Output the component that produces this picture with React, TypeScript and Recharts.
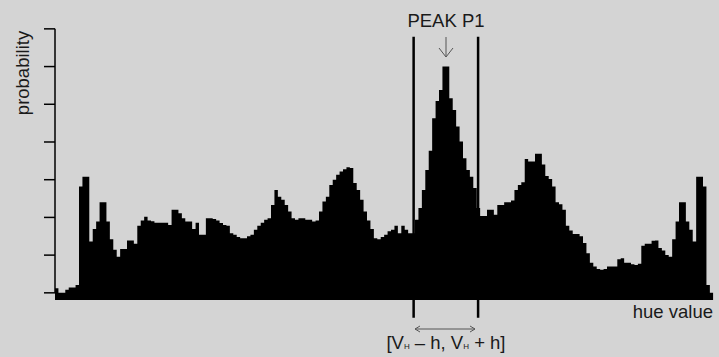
import React from 'react';
import { AreaChart, Area, XAxis, YAxis, ReferenceLine } from 'recharts';

// histogram heights, one per hue bin (units = y tick spacing)
const probability = [
  0.12, 0.0, 0.0, 0.08, 0.14, 0.14, 0.21, 2.82, 3.08, 3.08,
  1.36, 1.69, 1.89, 2.4, 2.4, 1.89, 1.42, 1.14, 0.96, 1.16,
  1.16, 1.39, 1.39, 1.3, 1.78, 1.92, 2.02, 1.92, 1.9, 1.86,
  1.86, 1.86, 1.86, 1.8, 2.2, 2.2, 2.11, 1.98, 1.89, 1.89,
  1.69, 1.86, 1.54, 1.54, 1.98, 1.98, 1.96, 1.92, 1.85, 1.8,
  1.78, 1.58, 1.54, 1.48, 1.45, 1.45, 1.5, 1.54, 1.67, 1.78,
  1.86, 1.94, 1.98, 2.33, 2.73, 2.55, 2.47, 2.33, 2.16, 1.98,
  1.94, 1.98, 1.98, 1.94, 1.94, 1.89, 1.92, 2.16, 2.42, 2.55,
  2.86, 3.0, 3.13, 3.22, 3.28, 3.33, 3.31, 2.91, 2.73, 2.47,
  2.16, 1.92, 1.69, 1.45, 1.42, 1.48, 1.54, 1.63, 1.67, 1.78,
  1.58, 1.78, 1.67, 1.58, 1.58, 1.94, 2.25, 2.73, 3.26, 3.77,
  4.63, 5.09, 5.38, 6.0, 6.0, 5.16, 4.85, 4.41, 4.01, 3.57,
  3.26, 3.08, 2.78, 2.25, 2.04, 2.04, 2.2, 2.2, 2.07, 2.33,
  2.33, 2.4, 2.4, 2.45, 2.73, 2.86, 2.93, 3.55, 3.48, 3.48,
  3.69, 3.69, 3.4, 3.1, 3.02, 2.82, 2.4, 2.35, 2.2, 1.78,
  1.65, 1.56, 1.56, 1.5, 1.32, 1.05, 0.8, 0.7, 0.63, 0.61,
  0.63, 0.7, 0.7, 0.7, 0.89, 0.92, 0.8, 0.8, 0.76, 0.74,
  0.77, 1.25, 1.3, 1.3, 1.38, 1.39, 1.19, 1.12, 1.0, 0.96,
  1.42, 1.89, 2.4, 2.4, 1.89, 1.67, 1.36, 3.08, 3.08, 2.82,
  0.21, 0.0,
];

const yTicks = [0, 1, 2, 3, 4, 5, 6, 7];
const peakBin = 114;
const halfWidth = 9.4;

// each bin starts at its index; last point closes the final step
const histogram = probability
  .map((p, i) => ({ hue: i, p }))
  .concat({ hue: probability.length, p: probability[probability.length - 1] });

const BG = '#d4d4d4';
const FONT = '"Liberation Sans", Arial, sans-serif';
const TEXT = '#1a1a1a';

export default function App() {
  return (
    <div style={{ position: 'absolute', left: 0, top: 0, width: 719, height: 357, background: BG }}>
      <AreaChart
        width={719}
        height={357}
        data={histogram}
        margin={{ top: 10, right: 5.7, bottom: 57, left: 0 }}
      >
        <XAxis type="number" dataKey="hue" domain={[0, probability.length]} hide allowDataOverflow />
        <YAxis
          type="number"
          domain={[-0.19, 7.5]}
          ticks={yTicks}
          interval={0}
          width={55}
          axisLine={false}
          tickLine={{ stroke: '#000', strokeWidth: 1.5 }}
          tickSize={11}
          tickFormatter={() => ''}
          allowDataOverflow
        />
        <Area
          type="stepAfter"
          dataKey="p"
          fill="#000"
          fillOpacity={1}
          stroke="none"
          baseValue="dataMin"
          dot={false}
          activeDot={false}
          isAnimationActive={false}
        />
        <ReferenceLine
          segment={[{ x: 0, y: 0 }, { x: 0, y: 7 }]}
          stroke="#000"
          strokeWidth={1.5}
          ifOverflow="visible"
        />
        <ReferenceLine
          segment={[{ x: peakBin - halfWidth, y: 6.79 }, { x: peakBin - halfWidth, y: -0.66 }]}
          stroke="#000"
          strokeWidth={2.5}
          ifOverflow="visible"
        />
        <ReferenceLine
          segment={[{ x: peakBin + halfWidth, y: 6.79 }, { x: peakBin + halfWidth, y: -0.66 }]}
          stroke="#000"
          strokeWidth={2.5}
          ifOverflow="visible"
        />
      </AreaChart>
      <svg
        width={719}
        height={357}
        style={{ position: 'absolute', left: 0, top: 0, pointerEvents: 'none' }}
        fontFamily={FONT}
        fill={TEXT}
      >
        <text transform="translate(29,73) rotate(-90)" textAnchor="middle" fontSize={18.5}>
          probability
        </text>
        <text x={446} y={27} textAnchor="middle" fontSize={18.5}>
          PEAK P1
        </text>
        <g stroke="#555" strokeWidth={1} fill="none">
          <line x1={446} y1={37} x2={446} y2={57} />
          <polyline points="439,48 446,57 453,48" />
          <line x1={415} y1={329} x2={475} y2={329} />
          <polyline points="420,326 415,329 420,332" />
          <polyline points="470,326 475,329 470,332" />
        </g>
        <text x={713} y={318} textAnchor="end" fontSize={18.5}>
          hue value
        </text>
        <text x={446} y={349} textAnchor="middle" fontSize={18.5}>
          [V<tspan fontSize={8}>H</tspan> – h, V<tspan fontSize={8}>H</tspan> + h]
        </text>
      </svg>
    </div>
  );
}
